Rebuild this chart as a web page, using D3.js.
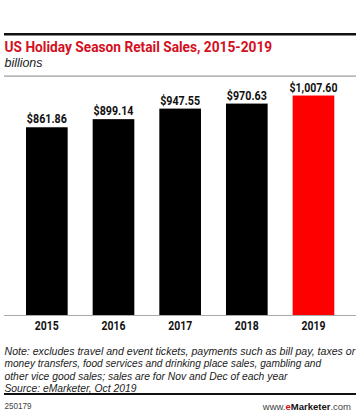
<!DOCTYPE html>
<html><head><meta charset="utf-8">
<script src="https://cdn.jsdelivr.net/npm/d3@7"></script>
<style>
html,body{margin:0;padding:0;background:#fff;}
svg{display:block;}
</style></head>
<body>
<svg id="c" width="361" height="419"></svg>
<script>
const years = ["2015","2016","2017","2018","2019"];
const sales = [861.86, 899.14, 947.55, 970.63, 1007.60];
const valueLabels = ["$861.86","$899.14","$947.55","$970.63","$1,007.60"];
const highlightYear = "2019";
const titleText = "US Holiday Season Retail Sales, 2015-2019";
const subtitleText = "billions";
const noteLines = [
  "Note: excludes travel and event tickets, payments such as bill pay, taxes or",
  "money transfers, food services and drinking place sales, gambling and",
  "other vice good sales; sales are for Nov and Dec of each year",
  "Source: eMarketer, Oct 2019"
];
const noteWidths = [351, 317, 283, 132];
const chartId = "250179";

const svg = d3.select("#c");
const sans = "Roboto,'Liberation Sans',Arial,sans-serif";

// squeeze a text horizontally to a target width (condensed look), scaling about its anchor x
function fit(sel, w) {
  sel.each(function(){
    const n = this.getComputedTextLength();
    if (n > w) {
      const s = w / n;
      const x0 = +(this.getAttribute("x") || 0);
      const prev = this.getAttribute("transform") || "";
      d3.select(this).attr("transform", `${prev} translate(${x0},0) scale(${s},1) translate(${-x0},0)`);
    }
  });
}

// header rules
svg.append("rect").attr("x",4).attr("y",33).attr("width",352).attr("height",2.5).attr("fill","#111");
svg.append("text").attr("x",4.5).attr("y",52.5).text(titleText)
  .attr("font-family",sans).attr("font-weight","bold").attr("font-size",15).attr("fill","#d3101d")
  .call(fit, 268);
svg.append("text").attr("x",4.5).attr("y",67).text(subtitleText)
  .attr("font-family","'Liberation Sans',Arial,sans-serif").attr("font-style","italic").attr("font-size",12.5).attr("fill","#222")
  .call(fit, 38);
svg.append("rect").attr("x",4).attr("y",75.5).attr("width",352).attr("height",1.2).attr("fill","#999");

const x = d3.scaleBand().domain(years).range([13.5,346.8]).paddingInner(0.375).paddingOuter(0.1875);
const y = d3.scaleLinear().domain([0,1100]).range([315,75.4]);

svg.append("g").selectAll("rect").data(years).join("rect")
  .attr("x",d=>x(d)).attr("width",x.bandwidth())
  .attr("y",(d,i)=>y(sales[i])).attr("height",(d,i)=>y(0)-y(sales[i]))
  .attr("fill",d=>d===highlightYear?"#fe0000":"#000");

svg.append("g").selectAll("text").data(years).join("text")
  .attr("x",d=>x(d)+x.bandwidth()/2).attr("y",(d,i)=>y(sales[i])-4)
  .attr("text-anchor","middle").text((d,i)=>valueLabels[i])
  .attr("font-family",sans).attr("font-weight","bold").attr("font-size",12).attr("fill","#111")
  .each(function(d,i){ d3.select(this).call(fit, i===4?48:40); });

// baseline
svg.append("rect").attr("x",4).attr("y",315).attr("width",352).attr("height",1).attr("fill","#aaa");

// x axis labels
const xAxis = d3.axisBottom(x).tickSize(0).tickPadding(0);
const gx = svg.append("g").attr("transform","translate(0,321)").call(xAxis);
gx.select(".domain").remove();
gx.selectAll("text").attr("dy","0.71em").attr("font-family",sans).attr("font-weight","bold").attr("font-size",12).attr("fill","#111")
  .call(fit, 24);

// notes
svg.append("g").selectAll("text").data(noteLines).join("text")
  .attr("x",4.5).attr("y",(d,i)=>355+i*12.3).text(d=>d)
  .attr("font-family","'Liberation Sans',Arial,sans-serif").attr("font-style","italic").attr("font-size",11.3).attr("fill","#222")
  .each(function(d,i){ d3.select(this).call(fit, noteWidths[i]); });

svg.append("rect").attr("x",4).attr("y",393).attr("width",352).attr("height",2).attr("fill","#111");
svg.append("text").attr("x",4.5).attr("y",409.5).text(chartId)
  .attr("font-family","'Liberation Sans',Arial,sans-serif").attr("font-size",9.5).attr("fill","#444")
  .call(fit, 27);
const site = svg.append("text").attr("x",351).attr("y",409.5).attr("text-anchor","end")
  .attr("font-family","'Liberation Sans',Arial,sans-serif").attr("font-size",9.5).attr("fill","#444");
site.append("tspan").text("www.");
site.append("tspan").text("e").attr("font-weight","bold").attr("fill","#d3101d");
site.append("tspan").text("Marketer").attr("font-weight","bold").attr("fill","#111");
site.append("tspan").text(".com");
</script>
</body></html>
